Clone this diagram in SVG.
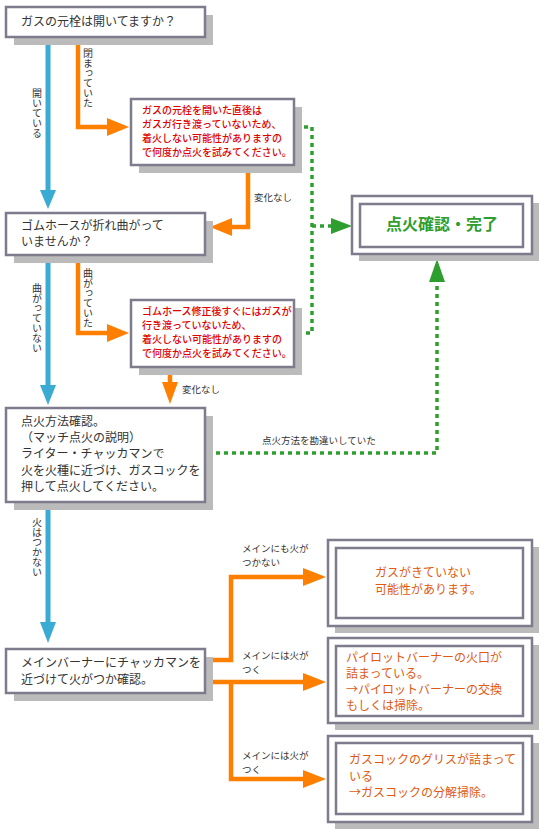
<svg xmlns="http://www.w3.org/2000/svg" width="547" height="839" viewBox="0 0 547 839">
<style>
text{font-family:"Noto Sans CJK JP","Noto Sans",sans-serif;}
.sh{fill:#bbbbbb;}
.bx{fill:#ffffff;stroke:#7d7b8c;stroke-width:2.5;}
.t{font-size:12px;fill:#333333;}
.r{font-size:10px;fill:#e00000;font-weight:500;}
.o{font-size:12px;fill:#e05a10;}
.lb{font-size:9.5px;fill:#333333;}
.v{font-size:10px;fill:#333333;writing-mode:vertical-rl;}
.bl{stroke:#3aabd2;stroke-width:5;fill:none;}
.bh{fill:#3aabd2;}
.or{stroke:#ff8000;stroke-width:4.5;fill:none;}
.oh{fill:#ff8000;}
.gr{stroke:#2e9e2e;stroke-width:3.5;fill:none;stroke-dasharray:4 4;}
.gh{fill:#2e9e2e;}
</style>
<rect width="547" height="839" fill="#ffffff"/>
<g id="connectors">
<path class="bl" d="M48 38V191"/><polygon class="bh" points="40,190 56,190 48,209"/>
<path class="bl" d="M48 256V386"/><polygon class="bh" points="40,385 56,385 48,405"/>
<path class="bl" d="M48 503V623"/><polygon class="bh" points="40,622 56,622 48,643"/>
<path class="or" d="M78 38V127H108"/><polygon class="oh" points="107,118 107,136 129,127"/>
<path class="or" d="M248 166V227H231"/><polygon class="oh" points="232,218 232,236 210,227"/>
<path class="or" d="M78 256V333H108"/><polygon class="oh" points="107,324 107,342 129,333"/>
<path class="or" d="M170 368V383"/><polygon class="oh" points="162,382 178,382 170,404"/>
<path class="or" d="M207 660H231V577H304"/><polygon class="oh" points="303,568 303,586 326,577"/>
<path class="or" d="M207 682H304M231 682V779H304"/><polygon class="oh" points="303,673 303,691 326,682"/><polygon class="oh" points="303,770 303,788 326,779"/>
<path class="gr" d="M296 127H312V333H296"/>
<path class="gr" d="M312 226H331"/><polygon class="gh" points="331,218 331,234 352,226"/>
<path class="gr" d="M208 453H437V282"/><polygon class="gh" points="429,282 445,282 437,259"/>
<text class="v" x="37" y="88">開いている</text>
<text class="v" x="88" y="48">閉まっていた</text>
<text class="lb" x="254" y="201">変化なし</text>
<text class="v" x="37" y="283">曲がっていない</text>
<text class="v" x="88" y="268">曲がっていた</text>
<text class="lb" x="182" y="393">変化なし</text>
<text class="lb" x="262" y="444">点火方法を勘違いしていた</text>
<text class="v" x="37" y="517">火はつかない</text>
<text class="lb" x="242" y="552">メインにも火が</text>
<text class="lb" x="242" y="566">つかない</text>
<text class="lb" x="242" y="659">メインには火が</text>
<text class="lb" x="242" y="673">つく</text>
<text class="lb" x="242" y="759">メインには火が</text>
<text class="lb" x="242" y="773">つく</text>
</g>
<g id="n1">
<rect class="sh" x="14" y="15" width="199" height="30"/>
<rect class="bx" x="6" y="7" width="199" height="30"/>
<text class="t" x="21" y="26">ガスの元栓は開いてますか？</text>
</g>
<g id="n2">
<rect class="sh" x="139" y="107" width="163" height="66"/>
<rect class="bx" x="131" y="99" width="163" height="66"/>
<text class="r" x="142" y="114">ガスの元栓を開いた直後は</text>
<text class="r" x="142" y="128">ガスガ行き渡っていないため、</text>
<text class="r" x="142" y="142">着火しない可能性がありますの</text>
<text class="r" x="142" y="156">で何度か点火を試みてください。</text>
</g>
<g id="n3">
<rect class="sh" x="14" y="221" width="199" height="42"/>
<rect class="bx" x="6" y="213" width="199" height="42"/>
<text class="t" x="21" y="230">ゴムホースが折れ曲がって</text>
<text class="t" x="21" y="246">いませんか？</text>
</g>
<g id="n4">
<rect class="sh" x="139" y="308" width="163" height="67"/>
<rect class="bx" x="131" y="300" width="163" height="67"/>
<text class="r" x="142" y="315">ゴムホース修正後すぐにはガスが</text>
<text class="r" x="142" y="329">行き渡っていないため、</text>
<text class="r" x="142" y="343">着火しない可能性がありますの</text>
<text class="r" x="142" y="357">で何度か点火を試みてください。</text>
</g>
<g id="n5">
<rect class="sh" x="14" y="416" width="199" height="94"/>
<rect class="bx" x="6" y="408" width="199" height="94"/>
<text class="t" x="21" y="426">点火方法確認。</text>
<text class="t" x="21" y="442">（マッチ点火の説明）</text>
<text class="t" x="21" y="458">ライター・チャッカマンで</text>
<text class="t" x="21" y="475">火を火種に近づけ、ガスコックを</text>
<text class="t" x="21" y="491">押して点火してください。</text>
</g>
<g id="n6">
<rect class="sh" x="14" y="657" width="199" height="44"/>
<rect class="bx" x="6" y="649" width="199" height="44"/>
<text class="t" x="21" y="667">メインバーナーにチャッカマンを</text>
<text class="t" x="21" y="684">近づけて火がつか確認。</text>
</g>
<g id="done">
<rect class="sh" x="359" y="203" width="180" height="58"/>
<rect class="bx" x="352" y="196" width="180" height="58"/>
<rect class="bx" x="360" y="204" width="163" height="43"/>
<text x="442" y="230" text-anchor="middle" font-size="16" font-weight="bold" fill="#2e9e2e">点火確認・完了</text>
</g>
<g id="r1">
<rect class="sh" x="335" y="547" width="204" height="86"/>
<rect class="bx" x="328" y="540" width="204" height="86"/>
<rect class="bx" x="336" y="548" width="187" height="70"/>
<text class="o" x="375" y="577">ガスがきていない</text>
<text class="o" x="375" y="594">可能性があります。</text>
</g>
<g id="r2">
<rect class="sh" x="335" y="645" width="204" height="85"/>
<rect class="bx" x="328" y="638" width="204" height="85"/>
<rect class="bx" x="336" y="646" width="187" height="70"/>
<text class="o" x="346" y="662">パイロットバーナーの火口が</text>
<text class="o" x="346" y="678">詰まっている。</text>
<text class="o" x="346" y="694">→パイロットバーナーの交換</text>
<text class="o" x="346" y="710">もしくは掃除。</text>
</g>
<g id="r3">
<rect class="sh" x="335" y="743" width="204" height="86"/>
<rect class="bx" x="328" y="736" width="204" height="86"/>
<rect class="bx" x="336" y="743" width="187" height="71"/>
<text class="o" x="349" y="764">ガスコックのグリスが詰まって</text>
<text class="o" x="349" y="781">いる</text>
<text class="o" x="349" y="797">→ガスコックの分解掃除。</text>
</g>
</svg>
